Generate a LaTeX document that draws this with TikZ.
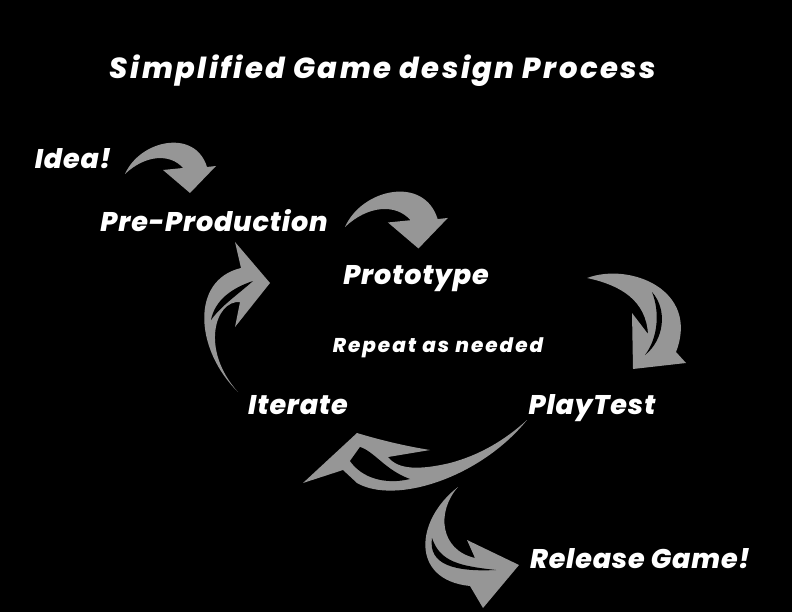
\documentclass[tikz,border=0pt]{standalone}
\usepackage{fontspec}
\setmainfont{Poppins}[BoldItalicFont={Poppins ExtraBold Italic}]
\definecolor{arrowgray}{RGB}{150,150,150}
\tikzset{
  stagetext/.style={text=white,anchor=base,inner sep=0pt,font=\bfseries\itshape\fontsize{27}{30}\selectfont\addfontfeature{LetterSpace=3}},
  titletext/.style={stagetext,font=\bfseries\itshape\fontsize{29}{32}\selectfont\addfontfeature{LetterSpace=8.5}},
  smalltext/.style={stagetext,font=\bfseries\itshape\fontsize{20}{24}\selectfont\addfontfeature{LetterSpace=10}},
}
\begin{document}
\begin{tikzpicture}[x=1pt,y=-1pt]
  \fill[black] (0,0) rectangle (792,612);
  \useasboundingbox (0,0) rectangle (792,612);
  % texts
  \node[titletext] (title) at (383,79) {Simplified Game design Process};
  \node[stagetext] (idea) at (73,169) {Idea!};
  \node[stagetext] (preprod) at (214,232) {Pre-Production};
  \node[stagetext] (proto) at (416,284) {Prototype};
  \node[smalltext] (repeat) at (438,352) {Repeat as needed};
  \node[stagetext] (iterate) at (298,414) {Iterate};
  \node[stagetext] (playtest) at (592,414) {PlayTest};
  \node[stagetext] (release) at (640,568) {Release Game!};
  % plain bent arrows
  \fill[arrowgray,shift={(125,174)}] (0,0) .. controls (15,-34) and (70,-46) .. (82,-7)
    -- (91,-8) -- (65,19) -- (38,-4) -- (58,-6) .. controls (45,-21) and (20,-19) .. cycle;
  \fill[arrowgray,shift={(345,227)},scale=1.13] (0,0) .. controls (15,-34) and (70,-46) .. (82,-7)
    -- (91,-8) -- (65,19) -- (38,-4) -- (58,-6) .. controls (45,-21) and (20,-19) .. cycle;
  % prototype -> playtest
  \fill[arrowgray] (587,278) .. controls (630,262) and (700,290) .. (676,352) -- (686,363)
    -- (633,369) -- (632,313) -- (648,334) .. controls (646,300) and (620,285) .. cycle;
  \fill[black] (652,292) .. controls (668,310) and (664,340) .. (645,355)
    .. controls (658,338) and (660,312) .. cycle;
  % iterate -> pre-production
  \fill[arrowgray] (238,392) .. controls (195,350) and (190,280) .. (241,268) -- (235,242)
    -- (270,283) -- (235,327) -- (240,302) .. controls (215,300) and (200,350) .. cycle;
  \fill[black] (211,320) .. controls (215,300) and (232,288) .. (253,281)
    .. controls (236,296) and (221,306) .. cycle;
  % playtest -> iterate
  \fill[arrowgray] (527,420) .. controls (480,478) and (395,505) .. (357,483) -- (343,470)
    -- (303,483) -- (357,433) .. controls (380,440) and (405,446) .. (430,450) -- (388,457)
    .. controls (398,470) and (420,470) .. (450,463) .. controls (480,455) and (505,440) .. cycle;
  \fill[black] (350,461) -- (360,447) .. controls (375,452) and (385,470) .. (410,479)
    .. controls (385,485) and (362,478) .. cycle;
  % playtest -> release
  \fill[arrowgray] (458,487) .. controls (415,520) and (410,580) .. (470,586) -- (483,608)
    -- (519,565) -- (467,540) -- (475,558) .. controls (440,550) and (436,512) .. cycle;
  \fill[black] (432,538) .. controls (428,565) and (455,572) .. (496,570)
    .. controls (460,566) and (440,562) .. cycle;
\end{tikzpicture}
\end{document}
